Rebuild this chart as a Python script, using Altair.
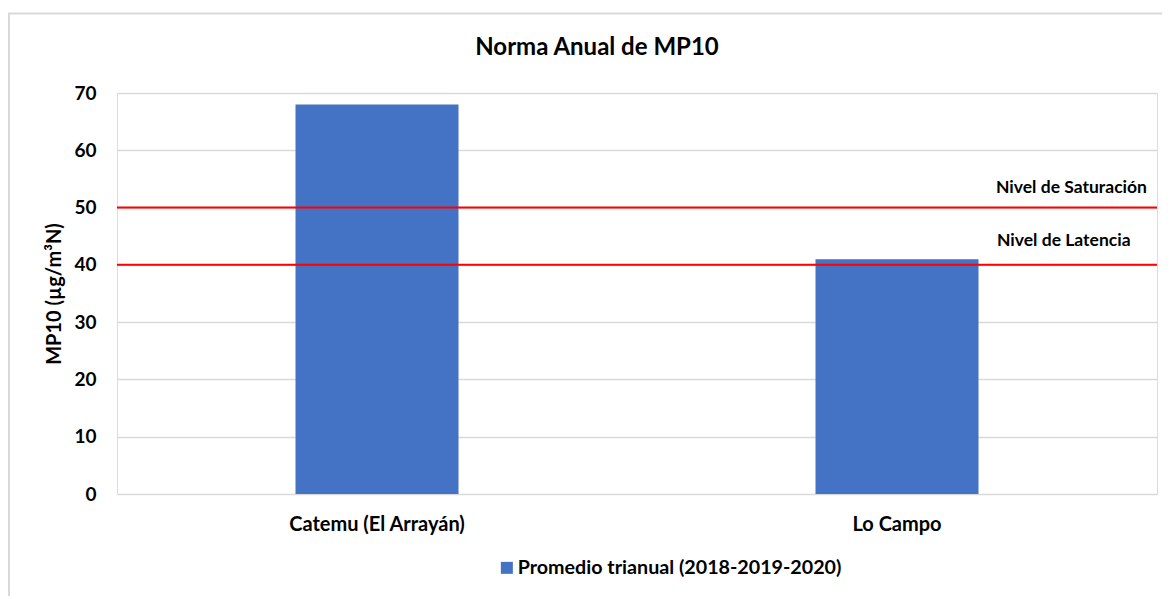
import altair as alt
import pandas as pd

# Data
stations = ["Catemu (El Arrayán)", "Lo Campo"]
values = [68, 41]
series_name = "Promedio trianual (2018-2019-2020)"
threshold_names = ["Nivel de Saturación", "Nivel de Latencia"]
threshold_values = [50, 40]
y_ticks = [0, 10, 20, 30, 40, 50, 60, 70]

FONT = "Lato"
W, H = 1040, 401

bars_df = pd.DataFrame({"estacion": stations, "valor": values, "serie": [series_name] * len(stations)})
thr_df = pd.DataFrame({"nivel": threshold_names, "valor": threshold_values})

border = alt.Chart(alt.Data(values=[{}])).mark_rect(
    fill="white", fillOpacity=0, stroke="#d9d9d9", strokeWidth=2
).encode(
    x=alt.value(-108), x2=alt.value(1075), y=alt.value(-79.5), y2=alt.value(540)
)

bars = alt.Chart(bars_df).mark_bar(size=163).encode(
    x=alt.X("estacion:N", sort=stations, title=None,
            scale=alt.Scale(paddingInner=0, paddingOuter=0),
            axis=alt.Axis(labelAngle=0, ticks=False, domain=False, labelPadding=20,
                          labelFont=FONT, labelFontSize=20, labelFontWeight="bold",
                          labelColor="#000000")),
    y=alt.Y("valor:Q", title="MP10 (µg/m³N)",
            scale=alt.Scale(domain=[0, 70], nice=False),
            axis=alt.Axis(values=y_ticks, ticks=False, domain=False, grid=True,
                          gridColor="#d9d9d9", gridWidth=1.5, labelPadding=21,
                          labelFont=FONT, labelFontSize=19, labelFontWeight="bold",
                          labelColor="#000000", titleFont=FONT, titleFontSize=20,
                          titleFontWeight="bold", titleColor="#000000", titlePadding=9)),
    color=alt.Color("serie:N", scale=alt.Scale(range=["#4472C4"]), title=None,
                    legend=alt.Legend(orient="none", legendX=380, legendY=465,
                                      symbolType="square", symbolSize=144,
                                      symbolStrokeWidth=0, labelOffset=1, padding=0,
                                      labelFont=FONT, labelFontSize=19.7,
                                      labelFontWeight="bold", labelColor="#000000",
                                      labelLimit=500)),
)

rules = alt.Chart(thr_df).mark_rule(color="#ff0000", strokeWidth=2).encode(
    y="valor:Q"
)

sat_label = alt.Chart(alt.Data(values=[{}])).mark_text(
    text=threshold_names[0], align="left", baseline="middle", dy=-20,
    font=FONT, fontSize=17.5, fontWeight="bold", color="#000000"
).encode(x=alt.value(879), y=alt.datum(threshold_values[0]))

lat_label = alt.Chart(alt.Data(values=[{}])).mark_text(
    text=threshold_names[1], align="left", baseline="middle", dy=-24,
    font=FONT, fontSize=17.5, fontWeight="bold", color="#000000"
).encode(x=alt.value(880), y=alt.datum(threshold_values[1]))

chart = alt.layer(border, bars, rules, sat_label, lat_label).properties(
    width=W, height=H,
    title=alt.TitleParams("Norma Anual de MP10", font=FONT, fontSize=24,
                          fontWeight="bold", color="#000000", anchor="middle",
                          dx=-40, offset=-47),
    autosize=alt.AutoSizeParams(type="none"),
    padding={"left": 109, "top": 85, "right": 5, "bottom": 102},
).configure_view(stroke=None).configure(background="white")

chart.save("out.html", embed_options={"renderer": "svg", "actions": False})
